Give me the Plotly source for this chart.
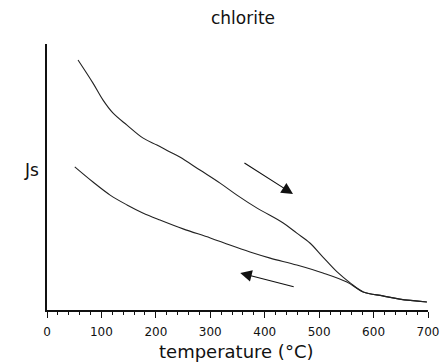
import plotly.graph_objects as go

# heating curve (upper)
heat_T = [57, 84.5, 103, 121, 147, 176, 202, 226, 244, 281, 318, 349, 386, 434, 459, 483, 507, 533, 557, 581, 617, 648, 698]
heat_Js = [94.0, 85.3, 78.9, 74.1, 69.5, 64.7, 62.0, 59.4, 57.5, 52.6, 47.7, 43.2, 38.3, 32.7, 28.9, 25.2, 19.9, 14.3, 10.2, 6.8, 5.3, 4.1, 3.0]

# cooling curve (lower)
cool_T = [51, 84.5, 116, 147, 176, 208, 250, 300, 336, 373, 410, 459, 507, 551, 581, 617, 648, 698]
cool_Js = [53.8, 48.1, 43.2, 39.5, 36.5, 33.8, 30.5, 27.1, 24.4, 21.8, 19.5, 16.9, 13.9, 10.5, 6.8, 5.3, 4.1, 3.0]

x_ticks = [0, 100, 200, 300, 400, 500, 600, 700]

# arrows: (tail T, tail Js, head T, head Js)
arrow_heat = (360, 55.6, 452, 43.6)
arrow_cool = (456, 8.6, 355, 13.9)

fig = go.Figure()
fig.add_trace(go.Scatter(x=heat_T, y=heat_Js, mode="lines", line=dict(color="#222", width=1.1, shape="spline", smoothing=1.0), showlegend=False))
fig.add_trace(go.Scatter(x=cool_T, y=cool_Js, mode="lines", line=dict(color="#222", width=1.1, shape="spline", smoothing=1.0), showlegend=False))

for a in (arrow_heat, arrow_cool):
    fig.add_annotation(x=a[2], y=a[3], ax=a[0], ay=a[1], xref="x", yref="y", axref="x", ayref="y",
                       showarrow=True, arrowhead=2, arrowsize=2.1, arrowwidth=1.1, arrowcolor="#111", text="")

fig.add_annotation(text="chlorite", xref="paper", yref="paper", x=(243 - 47) / 381, y=1 + (44 - 18) / 266,
                   showarrow=False, xanchor="center", yanchor="middle", font=dict(family="DejaVu Sans", size=17, color="#111"))
fig.add_annotation(text="Js", xref="paper", yref="paper", x=(31 - 47) / 381, y=(310 - 170) / 266,
                   showarrow=False, xanchor="center", yanchor="middle", font=dict(family="DejaVu Sans", size=17, color="#111"))
fig.add_annotation(text="temperature (°C)", xref="paper", yref="paper", x=(236 - 47) / 381, y=(310 - 351) / 266,
                   showarrow=False, xanchor="center", yanchor="middle", font=dict(family="DejaVu Sans", size=18, color="#111"))

fig.update_layout(
    width=443, height=363, autosize=False,
    margin=dict(l=47, r=15, t=44, b=53),
    paper_bgcolor="white", plot_bgcolor="white",
    font=dict(family="DejaVu Sans", color="#111"),
    xaxis=dict(range=[0, 700], tickvals=x_ticks, ticks="outside", ticklen=6, tickwidth=1, tickcolor="#111",
               showline=True, linewidth=2, linecolor="#111", showgrid=False, zeroline=False, automargin=False,
               tickfont=dict(size=12, family="DejaVu Sans"), ticklabelstandoff=4,
               minor=dict(dtick=20, ticks="outside", ticklen=3, tickwidth=1, tickcolor="#111", showgrid=False)),
    yaxis=dict(range=[0, 100], showticklabels=False, ticks="", showline=True, linewidth=2, linecolor="#111",
               showgrid=False, zeroline=False, automargin=False),
)

fig.write_html("out.html", config={"displayModeBar": False, "responsive": False},
               post_script="document.body.style.margin='0';document.body.style.overflow='hidden';")
